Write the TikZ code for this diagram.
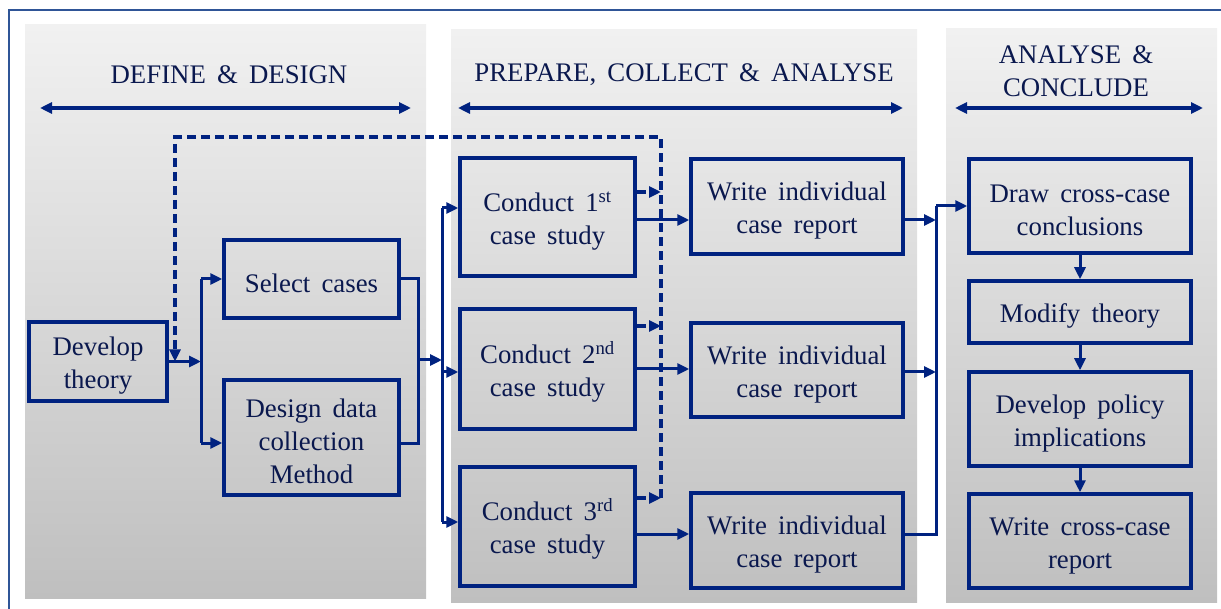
\documentclass[tikz,border=0pt]{standalone}
\usepackage{fontspec}
\setmainfont{Liberation Serif}
\usetikzlibrary{arrows.meta,calc}
\definecolor{linec}{RGB}{0,34,128}
\definecolor{textc}{RGB}{10,24,78}
\definecolor{framec}{RGB}{47,85,151}
\definecolor{paneltop}{RGB}{241,241,241}
\definecolor{panelbot}{RGB}{191,191,191}
% invisible strut that lowers a box's text a little
\newcommand\lift{\rule{0pt}{27pt}}
\tikzset{
  panel/.style={top color=paneltop, bottom color=panelbot, draw=none},
  box/.style={draw=linec, line width=3.5pt, align=center, inner sep=0pt,
    text=textc, font=\fontsize{26.8}{33}\selectfont},
  head/.style={align=center, text=textc, font=\fontsize{26.8}{33}\selectfont},
  wire/.style={draw=linec, line width=3pt},
  conn/.style={wire, -{Triangle[length=12pt,width=11pt]}},
  dconn/.style={conn, line width=3.3pt, dash pattern=on 9pt off 5pt},
  span/.style={draw=linec, line width=3.5pt, {Triangle[length=12pt,width=11pt]}-{Triangle[length=12pt,width=11pt]}},
}
\begin{document}
\begin{tikzpicture}[x=1pt,y=-1pt]
\useasboundingbox (0,0) rectangle (1221,609);
\clip (0,0) rectangle (1221,609);
% outer frame
\draw[framec, line width=1.5pt] (9,10) rectangle (1260,660);
% phase panels
\fill[panel] (25,25) rectangle (426,598);
\fill[panel] (451,30) rectangle (917,602);
\fill[panel] (946,29) rectangle (1217,602);

% phase headings
\node[head] (h1) at (229,75) {DEFINE \,\&\, DESIGN};
\node[head] (h2) at (684,75) {PREPARE, \,COLLECT \,\&\, ANALYSE};
\node[head] (h3) at (1076,71) {ANALYSE \,\&\\CONCLUDE};
\coordinate (s1a) at (40,108);  \coordinate (s1b) at (411,108);
\coordinate (s2a) at (458,108); \coordinate (s2b) at (903,108);
\coordinate (s3a) at (955,108); \coordinate (s3b) at (1203,108);
\draw[span] (s1a) -- (s1b);
\draw[span] (s2a) -- (s2b);
\draw[span] (s3a) -- (s3b);

% steps
\node[box, minimum width=138pt, minimum height=79pt]  (dev) at (98,361.5)   {\lift Develop\\theory};
\node[box, minimum width=175pt, minimum height=78pt]  (sel) at (311.5,279)  {\lift Select \,cases};
\node[box, minimum width=175pt, minimum height=115pt] (des) at (311.5,437.5){\lift Design \,data\\collection\\Method};
\node[box, minimum width=175pt, minimum height=118pt] (c1)  at (547.5,217)  {\lift Conduct \,1\textsuperscript{st}\\case \,study};
\node[box, minimum width=175pt, minimum height=120pt] (c2)  at (547.5,369)  {\lift Conduct \,2\textsuperscript{nd}\\case \,study};
\node[box, minimum width=175pt, minimum height=119pt] (c3)  at (547.5,526.5){\lift Conduct \,3\textsuperscript{rd}\\case \,study};
\node[box, minimum width=212pt, minimum height=95pt]  (w1)  at (797,206.5)  {\lift Write \,individual\\case \,report};
\node[box, minimum width=212pt, minimum height=94pt]  (w2)  at (797,370)    {\lift Write \,individual\\case \,report};
\node[box, minimum width=212pt, minimum height=95pt]  (w3)  at (797,540.5)  {\lift Write \,individual\\case \,report};
\node[box, minimum width=222pt, minimum height=94pt]  (dr)  at (1080,206)   {\lift Draw \,cross-case\\conclusions};
\node[box, minimum width=222pt, minimum height=62pt]  (mod) at (1080,312)   {\lift Modify \,theory};
\node[box, minimum width=222pt, minimum height=94pt]  (pol) at (1080,419)   {\lift Develop \,policy\\implications};
\node[box, minimum width=222pt, minimum height=94pt]  (wcr) at (1080,541)   {\lift Write \,cross-case\\report};

% junction points
\coordinate (jA) at (201,361.5);
\coordinate (jB) at (418,360);
\coordinate (jC) at (442,360);
\coordinate (jD) at (936,206);
\coordinate (d1) at (661,192);
\coordinate (d2) at (661,326);
\coordinate (d3) at (661,498);
\coordinate (dL) at (175,137);
\coordinate (dR) at (661,137);
\coordinate (a1) at (0,220);
\coordinate (a2) at (0,369);
\coordinate (a3) at (0,534);
\coordinate (b1) at (0,220);
\coordinate (b2) at (0,372);
\coordinate (e1) at (0,208);
\coordinate (e2) at (0,372);
\coordinate (e3) at (0,522);
\coordinate (g2) at (0,443);

% theory to case selection and design
\draw[conn] (dev.east) -- (jA);
\draw[wire] (jA |- sel.west) -- (jA |- g2);
\draw[conn] (jA |- sel.west) -- (sel.west);
\draw[conn] (jA |- g2) -- (des.west |- g2);
\draw[wire] (sel.east) -- (sel.east -| jB) -- (jB |- g2) -- (des.east |- g2);
\draw[conn] (jB) -- (jC);

% fan out to the case studies
\draw[wire] (jC |- e1) -- (jC |- e3);
\draw[conn] (jC |- e1) -- (c1.west |- e1);
\draw[conn] (jC |- e2) -- (c2.west |- e2);
\draw[conn] (jC |- e3) -- (c3.west |- e3);

% feedback loop back to theory
\draw[dconn] (d3) -- (dR) -- (dL) -- (dL |- jA);
\draw[dconn] (c1.east |- d1) -- (d1);
\draw[dconn] (c2.east |- d2) -- (d2);
\draw[dconn] (c3.east |- d3) -- (d3);

% case studies to reports
\draw[conn] (c1.east |- a1) -- (w1.west |- a1);
\draw[conn] (c2.east |- a2) -- (w2.west |- a2);
\draw[conn] (c3.east |- a3) -- (w3.west |- a3);

% reports gathered for cross-case analysis
\draw[conn] (w1.east |- b1) -- (jD |- b1);
\draw[conn] (w2.east |- b2) -- (jD |- b2);
\draw[wire] (w3.east |- a3) -- (jD |- a3) -- (jD);
\draw[conn] (jD) -- (dr.west);

% conclusion sequence
\draw[conn] (dr.south) -- (mod.north);
\draw[conn] (mod.south) -- (pol.north);
\draw[conn] (pol.south) -- (wcr.north);
\end{tikzpicture}
\end{document}
